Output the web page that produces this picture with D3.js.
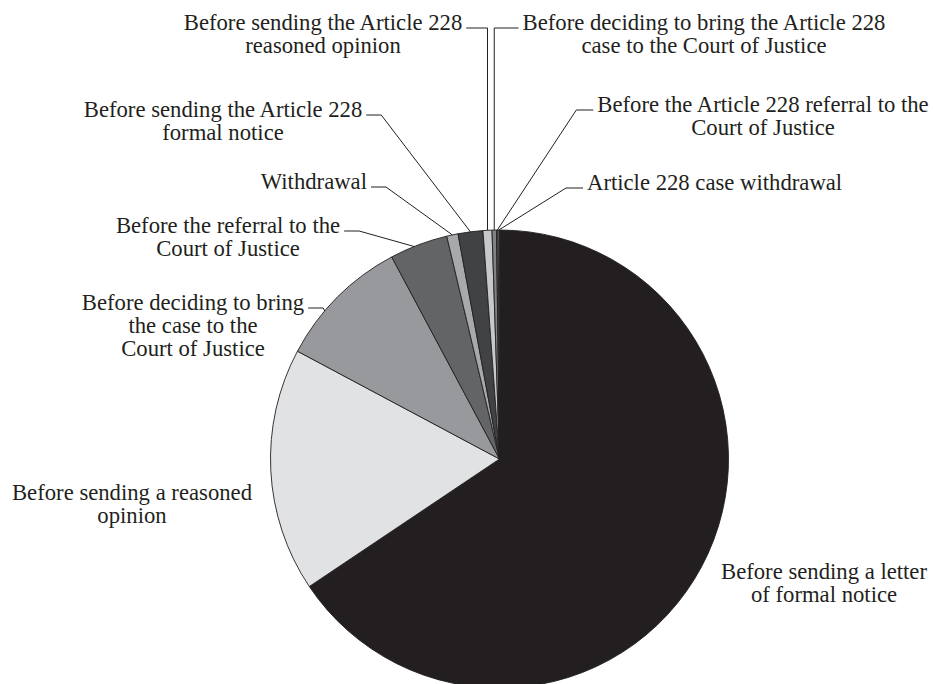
<!DOCTYPE html>
<html><head><meta charset="utf-8">
<script src="https://cdn.jsdelivr.net/npm/d3@7"></script>
<style>html,body{margin:0;padding:0;background:#fff}</style>
</head><body><svg id="chart" width="933" height="684"></svg>
<script>
// ---- data ----
const categories = [
  "Before sending a letter\nof formal notice",
  "Before sending a reasoned\nopinion",
  "Before deciding to bring\nthe case to the\nCourt of Justice",
  "Before the referral to the\nCourt of Justice",
  "Withdrawal",
  "Before sending the Article 228\nformal notice",
  "Before sending the Article 228\nreasoned opinion",
  "Before deciding to bring the Article 228\ncase to the Court of Justice",
  "Before the Article 228 referral to the\nCourt of Justice",
  "Article 228 case withdrawal"
];
const values = [65.6, 17.2, 9.4, 4.1, 0.8, 1.75, 0.63, 0.31, 0.12, 0.09];
const colors = ["#231f20", "#e1e2e4", "#98999c", "#636466", "#a7a9ac",
                "#414244", "#c7c8ca", "#808285", "#58595b", "#bcbec0"];

// ---- layout ----
const W = 933, H = 684;
const cx = 499.5, cy = 459, R = 229;
const fontSize = 22.7, lineH = 23;
const labelLayout = [
  {x: 824, y: 579, leader: "none"},
  {x: 132, y: 500, leader: "none"},
  {x: 193, y: 310, leader: "right", frac: 0.36},
  {x: 228, y: 233, leader: "right", frac: 0.42},
  {x: 367, y: 189, leader: "right", anchor: "end"},
  {x: 223, y: 117, leader: "right"},
  {x: 323, y: 30, leader: "right", elbow: "vertical"},
  {x: 704, y: 30, leader: "left", elbow: "vertical"},
  {x: 763, y: 112, leader: "left"},
  {x: 587, y: 190, leader: "left", anchor: "start"}
];

const svg = d3.select("#chart");
const pie = d3.pie().sort(null).value(d => d)(values);
const arc = d3.arc().innerRadius(0).outerRadius(R);

const g = svg.append("g").attr("transform", `translate(${cx},${cy})`);
g.selectAll("path").data(pie).join("path")
  .attr("d", arc)
  .attr("fill", (d, i) => colors[i])
  .attr("stroke", "#231f20")
  .attr("stroke-width", 0.9)
  .attr("stroke-linejoin", "round");

const edgePoint = (d, frac) => {
  const a = d.startAngle + (d.endAngle - d.startAngle) * frac;
  return [cx + R * Math.sin(a), cy - R * Math.cos(a)];
};

categories.forEach((label, i) => {
  const L = labelLayout[i];
  const lines = label.split("\n");
  const t = svg.append("text")
    .attr("x", L.x).attr("y", L.y)
    .attr("text-anchor", L.anchor || "middle")
    .attr("font-family", "'Liberation Serif', 'Times New Roman', serif")
    .attr("font-size", fontSize)
    .attr("fill", "#231f20");
  lines.forEach((ln, k) => {
    t.append("tspan").attr("x", L.x).attr("y", L.y + k * lineH).text(ln);
  });
  if (L.leader === "none") return;
  const first = t.select("tspan").node();
  const w = first.getComputedTextLength();
  const anchor = L.anchor || "middle";
  let left = anchor === "middle" ? L.x - w / 2 : anchor === "start" ? L.x : L.x - w;
  let right = left + w;
  const ly = L.y - 2;
  const p = edgePoint(pie[i], L.frac == null ? 0.5 : L.frac);
  let pts;
  if (L.leader === "right") {
    const x0 = right + 4;
    if (L.elbow === "vertical") pts = [[x0, ly], [p[0], ly], p];
    else pts = [[x0, ly], [x0 + 15, ly], p];
  } else {
    const x0 = left - 4;
    if (L.elbow === "vertical") pts = [[x0, ly], [p[0], ly], p];
    else pts = [[x0, ly], [x0 - 17, ly], p];
  }
  svg.append("path")
    .attr("d", d3.line()(pts))
    .attr("fill", "none")
    .attr("stroke", "#231f20")
    .attr("stroke-width", 1);
});
</script></body></html>
